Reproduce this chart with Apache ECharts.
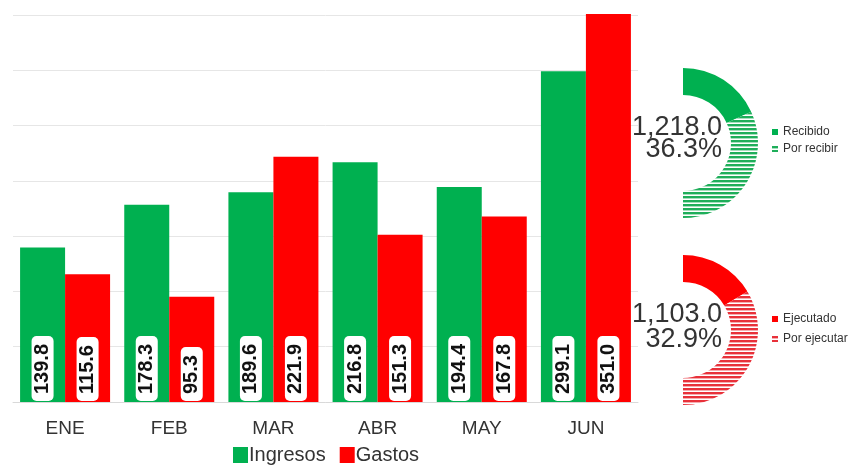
<!DOCTYPE html>
<html>
<head>
<meta charset="utf-8">
<script src="https://cdn.jsdelivr.net/npm/echarts@6/dist/echarts.min.js"></script>
<style>html,body{margin:0;padding:0;background:#fff}#c{width:853px;height:466px}</style>
</head>
<body>
<div id="c"></div>
<script>
var categories = ['ENE', 'FEB', 'MAR', 'ABR', 'MAY', 'JUN'];
var ingresos = [139.8, 178.3, 189.6, 216.8, 194.4, 299.1];
var gastos = [115.6, 95.3, 221.9, 151.3, 167.8, 351.0];
var yTicks = [0, 50, 100, 150, 200, 250, 300, 350];
var ingresosDonut = [{name: 'Recibido', value: 36.3}, {name: 'Por recibir', value: 63.7}];
var gastosDonut = [{name: 'Ejecutado', value: 32.9}, {name: 'Por ejecutar', value: 67.1}];
var ingresosTotal = 1218.0;
var gastosTotal = 1103.0;
var ingresosPct = 36.3;
var gastosPct = 32.9;

var GREEN = '#00b050', RED = '#ff0000';
function stripes(color) {
  var c = document.createElement('canvas');
  c.width = 4; c.height = 4;
  var ctx = c.getContext('2d');
  ctx.fillStyle = '#ffffff'; ctx.fillRect(0, 0, 4, 4);
  ctx.fillStyle = color; ctx.fillRect(0, 0, 4, 2.4);
  return {image: c, repeat: 'repeat'};
}
function fmt(v) { return v.toLocaleString('en-US', {minimumFractionDigits: 1, maximumFractionDigits: 1}); }

var barLabel = {
  show: true, position: 'insideBottom', rotate: 90, align: 'left', verticalAlign: 'middle',
  distance: 1, fontFamily: 'Liberation Sans', fontWeight: 'bold', fontSize: 20, color: '#111',
  backgroundColor: '#ffffff', borderRadius: 5, padding: [1, 8, 1, 7],
  formatter: function (p) { return p.value.toFixed(1); }
};

function donut(center, data, solid, striped) {
  return {
    type: 'pie', center: center, radius: [48, 75], startAngle: 90, clockwise: true,
    silent: true, label: {show: false}, labelLine: {show: false},
    data: [
      {name: data[0].name, value: data[0].value, itemStyle: {color: solid}},
      {name: data[1].name, value: data[1].value, itemStyle: {color: stripes(striped)}},
      {name: '_hidden', value: data[0].value + data[1].value, itemStyle: {color: 'rgba(0,0,0,0)'}}
    ]
  };
}

var centerText = {fontSize: 27, fill: '#333', fontFamily: 'Liberation Sans'};
function ct(text, top) {
  return {type: 'text', right: 131, top: top, style: Object.assign({text: text}, centerText)};
}

var chart = echarts.init(document.getElementById('c'), null, {renderer: 'canvas'});
chart.setOption({
  animation: false,
  textStyle: {fontFamily: 'Liberation Sans'},
  grid: {left: 13, right: 215, top: 15, bottom: 64},
  legend: [
    {data: ['Ingresos', 'Gastos'], left: 233, top: 445, padding: 0, icon: 'rect', itemWidth: 15, itemHeight: 16,
     itemGap: 14, textStyle: {fontSize: 20, color: '#333', padding: [0, 0, 0, -4]}},
    {data: ingresosDonut.map(function (d) { return d.name; }), orient: 'vertical', left: 767, top: 121,
     icon: 'rect', itemWidth: 6, itemHeight: 6, itemGap: 5, textStyle: {fontSize: 12, color: '#333'}},
    {data: gastosDonut.map(function (d) { return d.name; }), orient: 'vertical', left: 767, top: 308,
     icon: 'rect', itemWidth: 6, itemHeight: 6, itemGap: 8, textStyle: {fontSize: 12, color: '#333'}}
  ],
  xAxis: {
    type: 'category', data: categories,
    axisLine: {lineStyle: {color: '#d9d9d9'}}, axisTick: {show: false},
    axisLabel: {fontSize: 19, color: '#333', margin: 17}
  },
  yAxis: {
    type: 'value', min: yTicks[0], max: yTicks[yTicks.length - 1], interval: yTicks[1] - yTicks[0],
    axisLabel: {show: false}, axisLine: {show: false}, axisTick: {show: false},
    splitLine: {lineStyle: {color: '#e6e6e6'}}
  },
  series: [
    {name: 'Ingresos', type: 'bar', data: ingresos, barWidth: 45, barGap: '0%', clip: false,
     itemStyle: {color: GREEN}, label: barLabel},
    {name: 'Gastos', type: 'bar', data: gastos, barWidth: 45, barGap: '0%', clip: false,
     itemStyle: {color: RED}, label: barLabel},
    donut([683, 143], ingresosDonut, GREEN, '#1fae5a'),
    donut([683, 330], gastosDonut, RED, '#e8313a')
  ],
  graphic: [
    ct(fmt(ingresosTotal), 114),
    ct(fmt(ingresosPct) + '%', 136),
    ct(fmt(gastosTotal), 301),
    ct(fmt(gastosPct) + '%', 326)
  ]
});
</script>
</body>
</html>
